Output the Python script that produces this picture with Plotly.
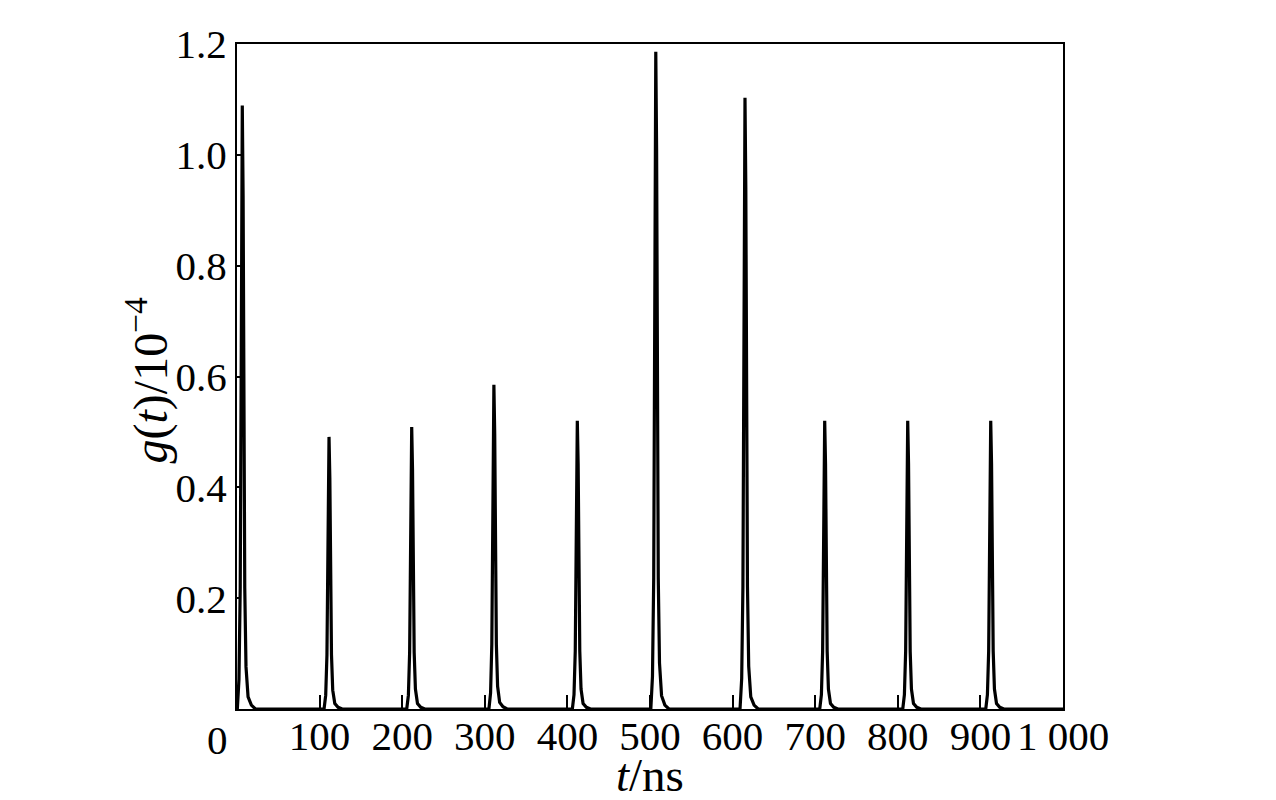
import plotly.graph_objects as go

# Time axis (ns) and correlation values g(t) (units of 1e-4)
t_ns = [
    0.0, 0.4, 2.4, 3.9, 5.2, 6.4, 7.4, 8.4, 9.4, 10.9, 13.4, 17.4, 22.4,
    105.4, 107.4, 108.9, 110.2, 111.4, 112.4, 113.4, 114.4, 115.9, 118.4, 122.4, 127.4,
    205.5, 207.5, 209.0, 210.3, 211.5, 212.5, 213.5, 214.5, 216.0, 218.5, 222.5, 227.5,
    305.0, 307.0, 308.5, 309.8, 311.0, 312.0, 313.0, 314.0, 315.5, 318.0, 322.0, 327.0,
    406.0, 408.0, 409.5, 410.8, 412.0, 413.0, 414.0, 415.0, 416.5, 419.0, 423.0, 428.0,
    501.0, 503.0, 504.5, 505.8, 507.0, 508.0, 509.0, 510.0, 511.5, 514.0, 518.0, 523.0,
    609.0, 611.0, 612.5, 613.8, 615.0, 616.0, 617.0, 618.0, 619.5, 622.0, 626.0, 631.0,
    705.5, 707.5, 709.0, 710.3, 711.5, 712.5, 713.5, 714.5, 716.0, 718.5, 722.5, 727.5,
    806.0, 808.0, 809.5, 810.8, 812.0, 813.0, 814.0, 815.0, 816.5, 819.0, 823.0, 828.0,
    906.5, 908.5, 910.0, 911.3, 912.5, 913.5, 914.5, 915.5, 917.0, 919.5, 923.5, 928.5,
    1000.0,
]
g_val = [
    0.0, 0.0, 0.054, 0.218, 0.653, 1.089, 0.926, 0.545, 0.218, 0.076, 0.022, 0.007, 0.0,
    0.0, 0.025, 0.098, 0.295, 0.491, 0.417, 0.246, 0.098, 0.034, 0.010, 0.003, 0.0,
    0.0, 0.025, 0.102, 0.305, 0.509, 0.433, 0.255, 0.102, 0.036, 0.010, 0.003, 0.0,
    0.0, 0.029, 0.117, 0.351, 0.585, 0.497, 0.293, 0.117, 0.041, 0.012, 0.004, 0.0,
    0.0, 0.026, 0.104, 0.312, 0.520, 0.442, 0.260, 0.104, 0.036, 0.010, 0.003, 0.0,
    0.0, 0.059, 0.237, 0.712, 1.186, 1.008, 0.593, 0.237, 0.083, 0.024, 0.007, 0.0,
    0.0, 0.055, 0.221, 0.662, 1.103, 0.938, 0.552, 0.221, 0.077, 0.022, 0.007, 0.0,
    0.0, 0.026, 0.104, 0.312, 0.520, 0.442, 0.260, 0.104, 0.036, 0.010, 0.003, 0.0,
    0.0, 0.026, 0.104, 0.312, 0.520, 0.442, 0.260, 0.104, 0.036, 0.010, 0.003, 0.0,
    0.0, 0.026, 0.104, 0.312, 0.520, 0.442, 0.260, 0.104, 0.036, 0.010, 0.003, 0.0,
    0.0,
]

x_tickvals = [100, 200, 300, 400, 500, 600, 700, 800, 900, 1000]
x_ticktext = ["100", "200", "300", "400", "500", "600", "700", "800", "900", "1 000"]
y_tickvals = [0.2, 0.4, 0.6, 0.8, 1.0, 1.2]
y_ticktext = ["0.2", "0.4", "0.6", "0.8", "1.0", "1.2"]
x_title = "<i>t</i>/ns"
y_title = "<i>g</i>(<i>t</i>)/10<sup>−4</sup>"

FONT = "Liberation Serif, Times New Roman, serif"
TICK_SIZE = 41

fig = go.Figure()
fig.add_trace(go.Scatter(x=t_ns, y=g_val, mode="lines",
                         line=dict(color="black", width=3.2), showlegend=False))

fig.update_layout(
    width=1260, height=790,
    margin=dict(l=229, r=205, t=36, b=89),
    paper_bgcolor="white", plot_bgcolor="white",
    font=dict(family=FONT, size=TICK_SIZE, color="black"),
    xaxis=dict(
        range=[0, 1000], tickmode="array", tickvals=x_tickvals, ticktext=x_ticktext,
        ticks="inside", ticklen=14, tickwidth=1.5, tickcolor="black",
        showline=True, linecolor="black", linewidth=2, mirror=True,
        showgrid=False, zeroline=False, automargin=False, ticklabelstandoff=-10,
        tickfont=dict(family=FONT, size=TICK_SIZE),
    ),
    yaxis=dict(
        range=[0, 1.2], tickmode="array", tickvals=y_tickvals, ticktext=y_ticktext,
        ticks="inside", ticklen=4, tickwidth=1.5, tickcolor="black",
        showline=True, linecolor="black", linewidth=2, mirror=True,
        showgrid=False, zeroline=False, automargin=False,
        tickfont=dict(family=FONT, size=TICK_SIZE),
    ),
)

# origin label shared by both axes
fig.add_annotation(x=0, y=0, xref="x", yref="y", text="0", showarrow=False,
                   xanchor="center", yanchor="top", xshift=-20, yshift=-6,
                   font=dict(family=FONT, size=TICK_SIZE, color="black"))
# axis titles
fig.add_annotation(x=0.5, y=0, xref="paper", yref="paper", text=x_title, showarrow=False,
                   xanchor="center", yanchor="middle", yshift=-66,
                   font=dict(family=FONT, size=47, color="black"))
fig.add_annotation(x=0, y=0.5, xref="paper", yref="paper", text=y_title, showarrow=False,
                   textangle=-90, xanchor="center", yanchor="middle", xshift=-90, yshift=-4,
                   font=dict(family=FONT, size=48, color="black"))

fig.write_html("out.html")
